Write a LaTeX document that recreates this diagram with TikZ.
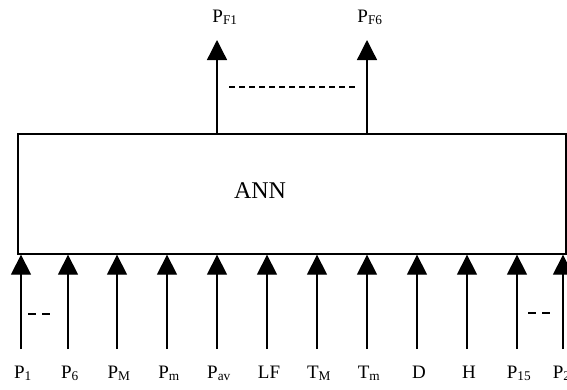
\documentclass[tikz,border=0pt]{standalone}
\usepackage{fontspec}
\setmainfont{Liberation Serif}
\usetikzlibrary{arrows.meta}

\begin{document}
\begin{tikzpicture}[
    x=1pt, y=-1pt,
    line width=1.3pt,
    annbox/.style={
        draw=black,
        minimum width=548pt,
        minimum height=120pt,
        inner sep=0pt
    },
    arrowline/.style={
        -{Triangle[width=20pt,length=20pt]}
    },
    lab/.style={
        font=\fontsize{19}{21}\selectfont,
        anchor=base,
        inner sep=0pt
    },
    gapdash/.style={
        dash pattern=on 8pt off 6pt
    }
]

    \useasboundingbox (0,0) rectangle (567,389);

    % the network block
    \node[annbox] (ann) at (292,194) {};
    \node[font=\fontsize{24}{26}\selectfont] (anntext) at (260,191) {ANN};

    % outputs
    \coordinate (o1) at (217,40);
    \coordinate (o2) at (367,40);
    \draw[arrowline] (o1 |- ann.north) -- (o1);
    \draw[arrowline] (o2 |- ann.north) -- (o2);
    \node[lab] (pf1) at (225,22) {P\textsubscript{F1}};
    \node[lab] (pf6) at (370,22) {P\textsubscript{F6}};
    \draw[dash pattern=on 6pt off 4pt] (229,87) -- (355,87);

    % inputs
    \foreach \x/\lab [count=\n] in {
        21/{P\textsubscript{1}}, 68/{P\textsubscript{6}},
        117/{P\textsubscript{M}}, 167/{P\textsubscript{m}},
        217/{P\textsubscript{av}}, 267/{LF},
        317/{T\textsubscript{M}}, 367/{T\textsubscript{m}},
        417/{D}, 467/{H},
        517/{P\textsubscript{15}}, 563/{P\textsubscript{27}}} {
        \coordinate (i\n) at (\x,349);
        \draw[arrowline] (i\n) -- (i\n |- ann.south);
        \node[lab] (in\n) at (\x+2,378) {\lab};
    }

    \draw[gapdash] (28,314) -- (50,314);
    \draw[gapdash] (528,313) -- (550,313);

\end{tikzpicture}
\end{document}
